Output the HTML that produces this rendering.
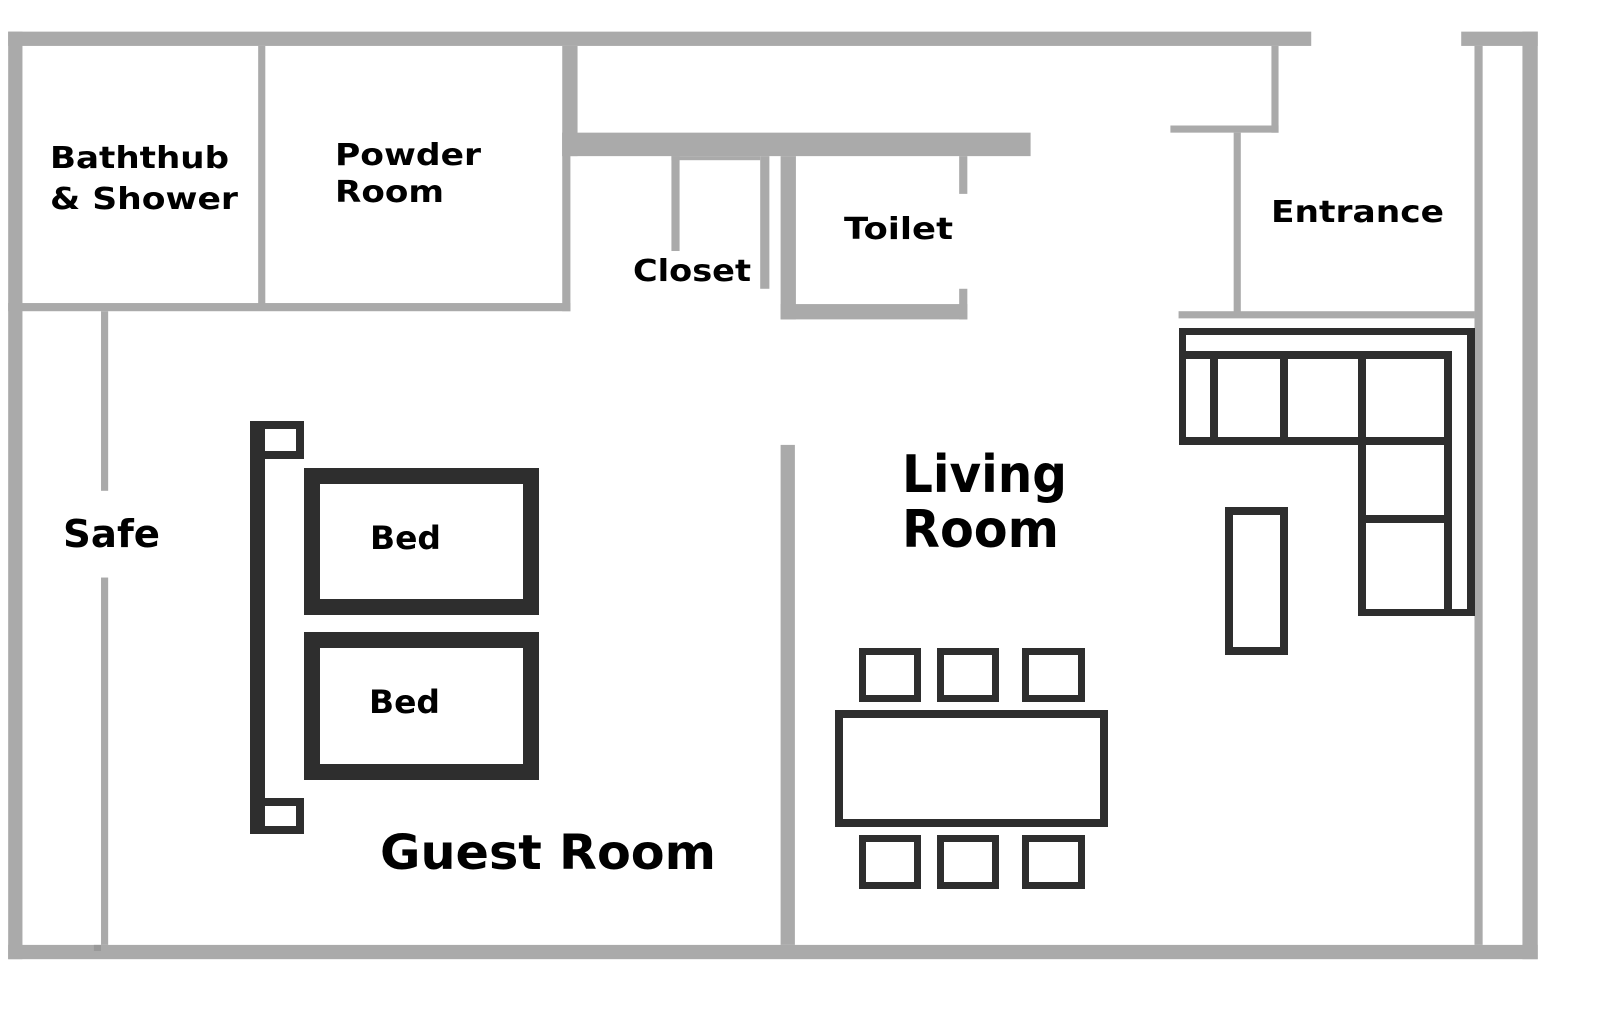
<!DOCTYPE html>
<html><head><meta charset="utf-8"><style>
html,body{margin:0;padding:0;background:#fff;}
svg{display:block;}
text{font-family:"DejaVu Sans","Liberation Sans",sans-serif;font-weight:bold;fill:#000;}
</style></head><body>
<svg width="1600" height="1022" viewBox="0 0 1600 1022" xmlns="http://www.w3.org/2000/svg">
<g transform="scale(1.0204)" fill="#aaaaaa">
  <rect x="8" y="31" width="1277" height="14"/>
  <rect x="1432" y="31" width="75" height="14"/>
  <rect x="8" y="31" width="14" height="909"/>
  <rect x="1492" y="31" width="15" height="909"/>
  <rect x="8" y="926" width="1499" height="14"/>
  <rect x="1445" y="45" width="8" height="881"/>
  <rect x="253" y="45" width="7" height="255"/>
  <rect x="8" y="297" width="551" height="8"/>
  <rect x="551" y="45" width="15" height="108"/>
  <rect x="551" y="130" width="8" height="175"/>
  <rect x="551" y="130" width="459" height="23"/>
  <rect x="658" y="153" width="8" height="93"/>
  <rect x="658" y="153" width="87" height="4"/>
  <rect x="745" y="153" width="9" height="130"/>
  <rect x="765" y="153" width="15" height="160"/>
  <rect x="765" y="298" width="183" height="15"/>
  <rect x="940" y="153" width="8" height="37"/>
  <rect x="940" y="283" width="8" height="30"/>
  <rect x="1246" y="45" width="7" height="85"/>
  <rect x="1147" y="123" width="106" height="7"/>
  <rect x="1209" y="130" width="7" height="180"/>
  <rect x="1155" y="305" width="290" height="7"/>
  <rect x="99" y="305" width="7" height="176"/>
  <rect x="99" y="566" width="7" height="360"/>
  <rect x="92" y="926" width="7" height="6" fill="#999"/>
  <rect x="765" y="436" width="14" height="490"/>
</g>
<g fill="none" stroke="#2e2e2e">
  <rect x="250" y="421" width="15" height="413" fill="#2e2e2e" stroke="none"/>
  <rect x="254" y="425" width="46" height="30" stroke-width="8"/>
  <rect x="254" y="802" width="46" height="28" stroke-width="8"/>
  <rect x="312" y="476" width="219" height="131" stroke-width="16"/>
  <rect x="312" y="640" width="219" height="132" stroke-width="16"/>
  <rect x="862.5" y="651.5" width="55" height="47" stroke-width="7"/>
  <rect x="940.5" y="651.5" width="55" height="47" stroke-width="7"/>
  <rect x="1025.5" y="651.5" width="56" height="47" stroke-width="7"/>
  <rect x="839" y="714" width="265" height="109" stroke-width="8"/>
  <rect x="862.5" y="838.5" width="55" height="47" stroke-width="7"/>
  <rect x="940.5" y="838.5" width="55" height="47" stroke-width="7"/>
  <rect x="1025.5" y="838.5" width="56" height="47" stroke-width="7"/>
  <rect x="1229" y="511" width="55" height="140" stroke-width="8"/>
</g>
<g fill="#2e2e2e">
  <rect x="1179" y="328" width="296" height="7"/>
  <rect x="1179" y="328" width="7" height="117"/>
  <rect x="1467" y="328" width="8" height="288"/>
  <rect x="1179" y="351" width="273" height="8"/>
  <rect x="1444" y="351" width="8" height="265"/>
  <rect x="1179" y="437" width="273" height="8"/>
  <rect x="1210" y="351" width="8" height="94"/>
  <rect x="1280" y="351" width="8" height="94"/>
  <rect x="1358" y="351" width="8" height="265"/>
  <rect x="1358" y="515" width="94" height="8"/>
  <rect x="1358" y="609" width="117" height="7"/>
</g>
<text x="50" y="168" font-size="30" textLength="179" lengthAdjust="spacingAndGlyphs">Baththub</text>
<text x="50" y="209" font-size="30" textLength="188" lengthAdjust="spacingAndGlyphs">&amp; Shower</text>
<text x="335" y="165" font-size="30" textLength="146" lengthAdjust="spacingAndGlyphs">Powder</text>
<text x="335" y="202" font-size="30" textLength="109" lengthAdjust="spacingAndGlyphs">Room</text>
<text x="633" y="281" font-size="30" textLength="118" lengthAdjust="spacingAndGlyphs">Closet</text>
<text x="844" y="239" font-size="30" textLength="109" lengthAdjust="spacingAndGlyphs">Toilet</text>
<text x="1271" y="222" font-size="30" textLength="173" lengthAdjust="spacingAndGlyphs">Entrance</text>
<text x="63" y="547" font-size="38" textLength="97" lengthAdjust="spacingAndGlyphs">Safe</text>
<text x="370" y="549" font-size="32" textLength="71" lengthAdjust="spacingAndGlyphs">Bed</text>
<text x="369" y="713" font-size="32" textLength="71" lengthAdjust="spacingAndGlyphs">Bed</text>
<text x="902" y="492" font-size="52" textLength="165" lengthAdjust="spacingAndGlyphs">Living</text>
<text x="902" y="547" font-size="52" textLength="157" lengthAdjust="spacingAndGlyphs">Room</text>
<text x="380" y="869" font-size="48" textLength="336" lengthAdjust="spacingAndGlyphs">Guest Room</text>
</svg>
</body></html>
